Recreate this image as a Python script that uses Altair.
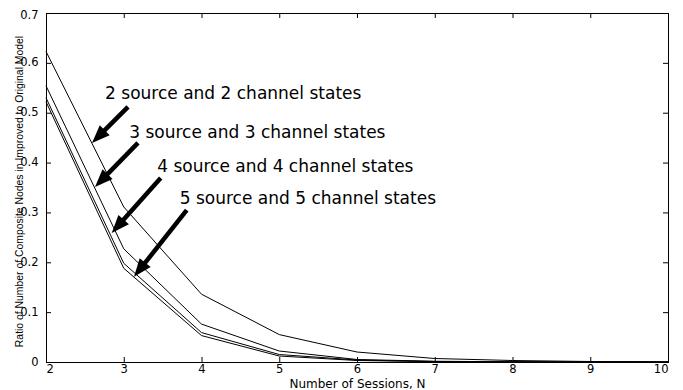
import math
import altair as alt
import pandas as pd

# ---- data ----
sessions = [2, 3, 4, 5, 6, 7, 8, 9, 10]
series_names = [
    "2 source and 2 channel states",
    "3 source and 3 channel states",
    "4 source and 4 channel states",
    "5 source and 5 channel states",
]
ratio_2 = [0.623, 0.311, 0.136, 0.055, 0.020, 0.007, 0.003, 0.001, 0.0003]
ratio_3 = [0.554, 0.227, 0.076, 0.022, 0.005, 0.0015, 0.0004, 0.0001, 0.0]
ratio_4 = [0.530, 0.198, 0.059, 0.015, 0.004, 0.001, 0.0002, 0.0, 0.0]
ratio_5 = [0.522, 0.188, 0.053, 0.012, 0.003, 0.0007, 0.0001, 0.0, 0.0]

# annotation labels (left edge, vertical centre) in data units
ann_x = [2.76, 3.07, 3.43, 3.72]
ann_y = [0.538, 0.4595, 0.391, 0.327]

# arrows: tail and head in data units
arrow_tail_x = [3.055, 3.183, 3.475, 3.810]
arrow_tail_y = [0.5117, 0.4394, 0.369, 0.3048]
arrow_head_x = [2.592, 2.630, 2.845, 3.132]
arrow_head_y = [0.4394, 0.351, 0.2586, 0.1708]

x_ticks = [2, 3, 4, 5, 6, 7, 8, 9, 10]
y_ticks = [0, 0.1, 0.2, 0.3, 0.4, 0.5, 0.6, 0.7]

x_title = "Number of Sessions, N"
y_title = "Ratio of Number of Composite Nodes in Improved to Original Model"

# ---- layout ----
W, H = 622, 349
X_DOM = [2, 10]
Y_DOM = [0, 0.7]
TICK = 5

rows = []
for name, vals in zip(series_names, [ratio_2, ratio_3, ratio_4, ratio_5]):
    for s, v in zip(sessions, vals):
        rows.append({"series": name, "N": s, "ratio": v})
lines_df = pd.DataFrame(rows)

px_per_x = W / (X_DOM[1] - X_DOM[0])
px_per_y = H / (Y_DOM[1] - Y_DOM[0])
arows = []
for tx, ty, hx, hy in zip(arrow_tail_x, arrow_tail_y, arrow_head_x, arrow_head_y):
    dx = (hx - tx) * px_per_x
    dy = -(hy - ty) * px_per_y
    length = math.hypot(dx, dy)
    ang = math.degrees(math.atan2(dx, -dy)) % 360
    frac = 12.0 / length
    arows.append({
        "tx": tx, "ty": ty, "hx": hx, "hy": hy,
        "sx": hx + (tx - hx) * frac, "sy": hy + (ty - hy) * frac,
        "ang": ang,
    })
arrow_df = pd.DataFrame(arows)
ann_df = pd.DataFrame({"x": ann_x, "y": ann_y, "label": series_names})
xt_df = pd.DataFrame({"v": x_ticks})
yt_df = pd.DataFrame({"v": y_ticks})

xs = alt.Scale(domain=X_DOM, nice=False, zero=False)
ys = alt.Scale(domain=Y_DOM, nice=False, zero=False)

x_axis = alt.Axis(
    values=x_ticks, format="d", ticks=False, grid=False, labelFlush=True,
    domainColor="black", labelColor="black", labelFont="DejaVu Sans",
    labelFontSize=11.5, labelPadding=1,
    titleFont="DejaVu Sans", titleFontSize=12,
    titleFontWeight="normal", titleColor="black",
    titleY=21, titleBaseline="middle")
y_axis = alt.Axis(
    values=y_ticks, ticks=False, grid=False, labelFlush=False,
    labelOffset={"condition": {"test": "datum.value >= 0.69", "value": 2}, "value": 0},
    labelExpr="datum.value == 0 ? '0' : format(datum.value, '.1f')",
    domainColor="black", labelColor="black", labelFont="DejaVu Sans",
    labelFontSize=11.5, labelPadding=8,
    titleFont="Liberation Sans", titleFontSize=10.4,
    titleFontWeight="normal", titleColor="black", titleAngle=270,
    titleX=-27, titleY=178, titleAlign="center", titleBaseline="middle")


def X(field):
    return alt.X(field, scale=xs, axis=x_axis, title=x_title)


def Y(field):
    return alt.Y(field, scale=ys, axis=y_axis, title=y_title)


lines = alt.Chart(lines_df).mark_line(color="black", strokeWidth=1).encode(
    x=X("N:Q"), y=Y("ratio:Q"), detail="series:N", order="N:Q")

tick_bottom = alt.Chart(xt_df).mark_rule(color="black", strokeWidth=1, xOffset=0.5).encode(
    x=X("v:Q"), y=alt.value(H), y2=alt.value(H - TICK))
tick_top = alt.Chart(xt_df).mark_rule(color="black", strokeWidth=1, xOffset=0.5).encode(
    x=X("v:Q"), y=alt.value(0), y2=alt.value(TICK))
tick_left = alt.Chart(yt_df).mark_rule(color="black", strokeWidth=1, yOffset=0.5).encode(
    y=Y("v:Q"), x=alt.value(0), x2=alt.value(TICK))
tick_right = alt.Chart(yt_df).mark_rule(color="black", strokeWidth=1, yOffset=0.5).encode(
    y=Y("v:Q"), x=alt.value(W), x2=alt.value(W - TICK))

border_top = alt.Chart(xt_df).mark_rule(color="black", strokeWidth=1).encode(
    x=alt.value(0), x2=alt.value(W + 0.5), y=alt.value(0.5))
border_right = alt.Chart(xt_df).mark_rule(color="black", strokeWidth=1).encode(
    x=alt.value(W + 0.5), y=alt.value(0), y2=alt.value(H + 0.5))

shafts = alt.Chart(arrow_df).mark_rule(color="black", strokeWidth=4.5, strokeCap="butt").encode(
    x=X("tx:Q"), y=Y("ty:Q"), x2="sx:Q", y2="sy:Q")

heads = alt.Chart(arrow_df).mark_point(
    shape="M0,0 L0.78,2 L-0.78,2 Z", filled=True, size=324,
    color="black", opacity=1, strokeWidth=0).encode(
    x=X("hx:Q"), y=Y("hy:Q"), angle=alt.Angle("ang:Q", scale=None))

labels = alt.Chart(ann_df).mark_text(
    align="left", baseline="middle", font="DejaVu Sans", fontSize=17, color="black").encode(
    x=X("x:Q"), y=Y("y:Q"), text="label:N")

chart = alt.layer(
    lines, tick_bottom, tick_top, tick_left, tick_right, border_top, border_right,
    shafts, heads, labels
).properties(
    width=W, height=H,
    autosize=alt.AutoSizeParams(type="none"),
    padding={"left": 38, "top": 5, "right": 7, "bottom": 28},
    background="white",
).configure_view(stroke=None)

chart.save("out.html", embed_options={"renderer": "svg", "actions": False})
